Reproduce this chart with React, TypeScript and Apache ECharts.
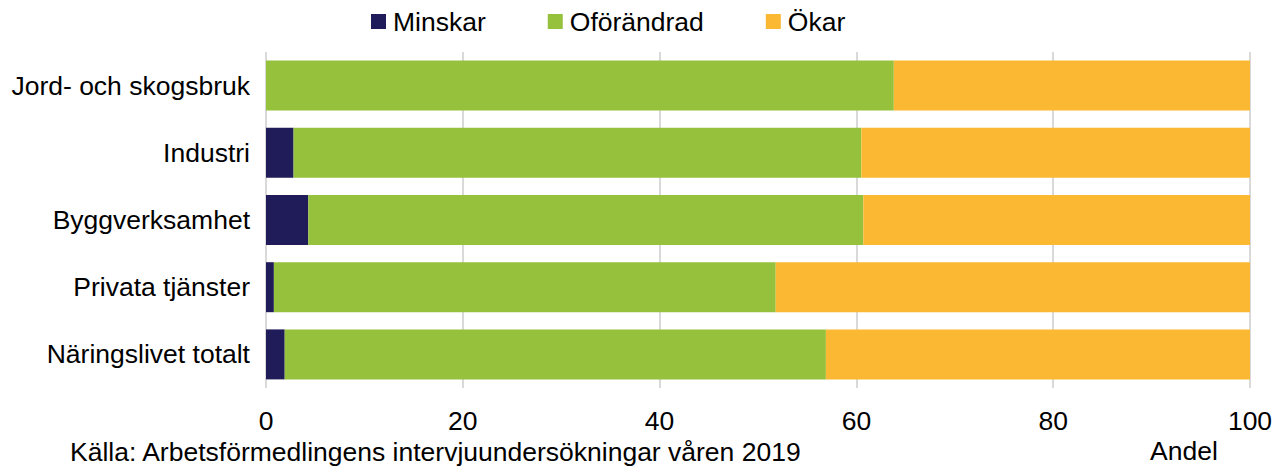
import React, { useEffect, useRef } from "react";
import * as echarts from "echarts";

const categories = [
  "Jord- och skogsbruk",
  "Industri",
  "Byggverksamhet",
  "Privata tjänster",
  "Näringslivet totalt",
];
const minskar = [0, 2.8, 4.3, 0.8, 1.9];
const oforandrad = [63.8, 57.7, 56.4, 51.0, 55.0];
const okar = [36.2, 39.5, 39.3, 48.2, 43.1];
const seriesNames = ["Minskar", "Oförändrad", "Ökar"];
const colors = ["#201c5a", "#96c13d", "#fbb933"];

const FONT = "'Liberation Sans', Arial, sans-serif";
const FS = 26.5;

export default function App() {
  const ref = useRef<HTMLDivElement>(null);
  useEffect(() => {
    if (!ref.current) return;
    const chart = echarts.init(ref.current, null, { renderer: "svg" });
    const values = [minskar, oforandrad, okar];
    chart.setOption({
      animation: false,
      textStyle: { fontFamily: FONT },
      legend: {
        left: 366,
        top: 3,
        itemWidth: 15,
        itemHeight: 15,
        itemGap: 62,
        icon: "rect",
        textStyle: { fontFamily: FONT, fontSize: FS, color: "#000", padding: [0, 0, 0, 2] },
        data: seriesNames,
      },
      grid: { left: 266, right: 26, top: 52, bottom: 80, containLabel: false },
      xAxis: {
        type: "value",
        min: 0,
        max: 100,
        interval: 20,
        axisLine: { show: false },
        axisTick: { show: false },
        axisLabel: { fontFamily: FONT, fontSize: FS, color: "#000", margin: 19 },
        splitLine: { show: true, lineStyle: { color: "#d9d9d9", width: 2 } },
      },
      yAxis: {
        type: "category",
        data: categories,
        inverse: true,
        axisLine: { show: false },
        axisTick: { show: false },
        axisLabel: { fontFamily: FONT, fontSize: FS, color: "#000", margin: 16 },
      },
      series: seriesNames.map((name, i) => ({
        name,
        type: "bar",
        stack: "total",
        barWidth: 50,
        itemStyle: { color: colors[i] },
        data: values[i],
      })),
      graphic: [
        {
          type: "text",
          left: 1150,
          top: 437,
          style: { text: "Andel", font: `${FS}px ${FONT}`, fill: "#000" },
        },
        {
          type: "text",
          left: 70,
          top: 438,
          style: {
            text: "Källa: Arbetsförmedlingens intervjuundersökningar våren 2019",
            font: `${FS}px ${FONT}`,
            fill: "#000",
          },
        },
      ],
    });
    return () => chart.dispose();
  }, []);
  return <div ref={ref} style={{ width: 1276, height: 468, position: "absolute", left: 0, top: 0 }} />;
}
